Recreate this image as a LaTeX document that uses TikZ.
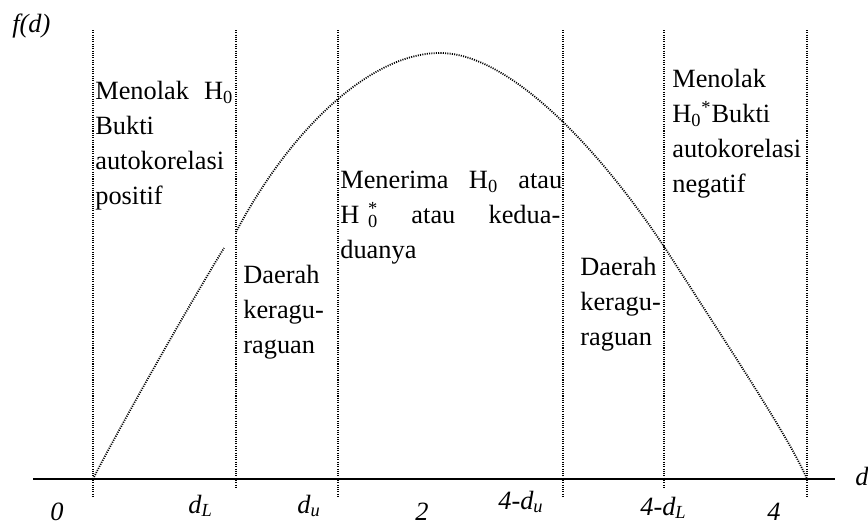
\documentclass[tikz,border=0pt]{standalone}
\usepackage{fontspec}
\setmainfont{Liberation Serif}
\usetikzlibrary{positioning}

\begin{document}
\begin{tikzpicture}[
    x=0.02cm, y=-0.02cm,
    garis/.style={line width=1pt, dash pattern=on 0.6pt off 0.7pt},
    sumbu/.style={line width=1.1pt},
    teks/.style={
        anchor=base west, inner sep=0pt,
        align=left, font=\fontsize{15}{19.8}\selectfont
    },
    tanda/.style={anchor=base west, inner sep=0pt, font=\fontsize{15}{18}\selectfont\itshape},
]
\useasboundingbox (0,0) rectangle (868,524);

% Sumbu d
\coordinate (kiri)  at (33,479);
\coordinate (kanan) at (835,479);
\draw[sumbu] (kiri) -- (kanan);

% Batas daerah
\foreach \x/\yb in {93/497, 236/487, 338/497, 563/497, 664/487, 807/497}
    \draw[garis] (\x,30) -- (\x,\yb);

% Kurva f(d)
\draw[garis] (93,479) .. controls (110,445) and (180,320) .. (224,248);
\draw[garis] (236,232) .. controls (290,130) and (370,53) .. (440,53)
    .. controls (510,53) and (600,150) .. (665,248)
    .. controls (745,372) and (790,440) .. (807,479);

% Keterangan daerah (titik = garis dasar baris terakhir)
\node[teks] (tolakpos) at (95,204)
    {\makebox[2.76cm][s]{Menolak H\textsubscript{0}}\\Bukti\\autokorelasi\\positif};
\node[teks] (ragukiri) at (243,353)
    {Daerah\\keragu-\\raguan};
\node[teks] (terima) at (340,258)
    {\makebox[4.44cm][s]{Menerima H\textsubscript{0} atau}\\
     \makebox[4.4cm][s]{H\hspace{5pt}\rlap{\textsuperscript{*}}\textsubscript{0} atau kedua-}\\duanya};
\node[teks] (ragukanan) at (580,345)
    {Daerah\\keragu-\\raguan};
\node[teks] (tolakneg) at (672,192)
    {Menolak\\H\textsubscript{0}\textsuperscript{*}Bukti\\autokorelasi\\negatif};

% Label sumbu
\node[tanda] (fd)  at (12,32)  {f(d)};
\node[tanda] (d)   at (855,485) {d};
\node[tanda] (nol) at (50,520) {0};
\node[tanda] (dL)  at (188,513) {d\textsubscript{L}};
\node[tanda] (du)  at (297,513) {d\textsubscript{u}};
\node[tanda] (dua) at (415,520) {2};
\node[tanda] (empatdu) at (498,509) {4-d\textsubscript{u}};
\node[tanda] (empatdL) at (640,515) {4-d\textsubscript{L}};
\node[tanda] (empat)   at (767,520) {4};

\end{tikzpicture}
\end{document}
